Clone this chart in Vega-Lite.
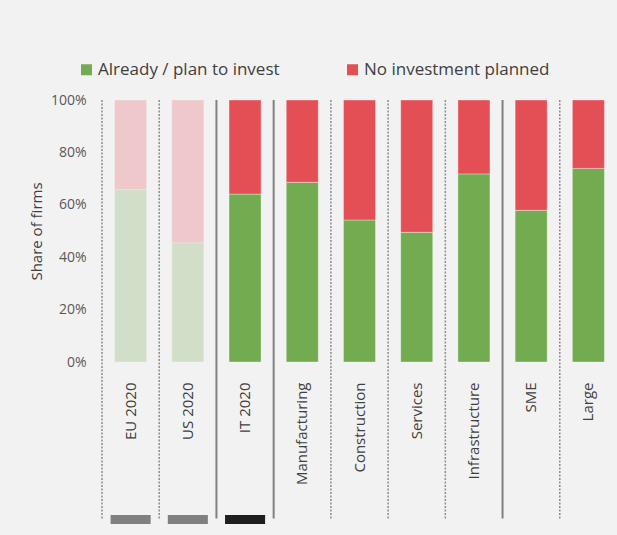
{
  "$schema": "https://vega.github.io/schema/vega-lite/v6.json",
  "autosize": "none",
  "width": 515,
  "height": 262,
  "padding": {"left": 102, "top": 100, "right": 0, "bottom": 173},
  "background": "#f2f2f2",
  "config": {
    "view": {"stroke": null},
    "font": "Open Sans",
    "axis": {"labelFont": "Open Sans", "titleFont": "Open Sans"},
    "legend": {"labelFont": "Open Sans"}
  },
  "datasets": {
    "bars": [
      {"cat": "EU 2020", "series": "Already / plan to invest", "value": 0.658, "faded": "yes", "ord": 1},
      {"cat": "EU 2020", "series": "No investment planned", "value": 0.342, "faded": "yes", "ord": 2},
      {"cat": "US 2020", "series": "Already / plan to invest", "value": 0.455, "faded": "yes", "ord": 1},
      {"cat": "US 2020", "series": "No investment planned", "value": 0.545, "faded": "yes", "ord": 2},
      {"cat": "IT 2020", "series": "Already / plan to invest", "value": 0.641, "faded": "no", "ord": 1},
      {"cat": "IT 2020", "series": "No investment planned", "value": 0.359, "faded": "no", "ord": 2},
      {"cat": "Manufacturing", "series": "Already / plan to invest", "value": 0.686, "faded": "no", "ord": 1},
      {"cat": "Manufacturing", "series": "No investment planned", "value": 0.314, "faded": "no", "ord": 2},
      {"cat": "Construction", "series": "Already / plan to invest", "value": 0.542, "faded": "no", "ord": 1},
      {"cat": "Construction", "series": "No investment planned", "value": 0.458, "faded": "no", "ord": 2},
      {"cat": "Services", "series": "Already / plan to invest", "value": 0.495, "faded": "no", "ord": 1},
      {"cat": "Services", "series": "No investment planned", "value": 0.505, "faded": "no", "ord": 2},
      {"cat": "Infrastructure", "series": "Already / plan to invest", "value": 0.718, "faded": "no", "ord": 1},
      {"cat": "Infrastructure", "series": "No investment planned", "value": 0.282, "faded": "no", "ord": 2},
      {"cat": "SME", "series": "Already / plan to invest", "value": 0.579, "faded": "no", "ord": 1},
      {"cat": "SME", "series": "No investment planned", "value": 0.421, "faded": "no", "ord": 2},
      {"cat": "Large", "series": "Already / plan to invest", "value": 0.739, "faded": "no", "ord": 1},
      {"cat": "Large", "series": "No investment planned", "value": 0.261, "faded": "no", "ord": 2}
    ],
    "seps": [
      {"cat": "EU 2020", "kind": "dotted", "top": 1, "bottom": -0.597},
      {"cat": "US 2020", "kind": "dotted", "top": 1, "bottom": -0.597},
      {"cat": "IT 2020", "kind": "solid", "top": 1, "bottom": -0.597},
      {"cat": "Manufacturing", "kind": "solid", "top": 1, "bottom": -0.597},
      {"cat": "Construction", "kind": "dotted", "top": 1, "bottom": -0.597},
      {"cat": "Services", "kind": "dotted", "top": 1, "bottom": -0.597},
      {"cat": "Infrastructure", "kind": "dotted", "top": 1, "bottom": -0.597},
      {"cat": "SME", "kind": "solid", "top": 1, "bottom": -0.597},
      {"cat": "Large", "kind": "dotted", "top": 1, "bottom": -0.597}
    ],
    "markers": [
      {"cat": "EU 2020", "shade": "light", "y0": -0.584, "y1": -0.618},
      {"cat": "US 2020", "shade": "light", "y0": -0.584, "y1": -0.618},
      {"cat": "IT 2020", "shade": "dark", "y0": -0.584, "y1": -0.618}
    ]
  },
  "layer": [
    {
      "data": {"name": "seps"},
      "transform": [{"filter": "datum.kind === 'dotted'"}],
      "mark": {"type": "rule", "color": "#8c8c8c", "strokeWidth": 1.5, "strokeDash": [2, 1.5]},
      "encoding": {
        "x": {"field": "cat", "type": "nominal", "bandPosition": 0, "sort": ["EU 2020", "US 2020", "IT 2020", "Manufacturing", "Construction", "Services", "Infrastructure", "SME", "Large"]},
        "y": {"field": "top", "type": "quantitative"},
        "y2": {"field": "bottom"}
      }
    },
    {
      "data": {"name": "seps"},
      "transform": [{"filter": "datum.kind === 'solid'"}],
      "mark": {"type": "rule", "color": "#808080", "strokeWidth": 2},
      "encoding": {
        "x": {"field": "cat", "type": "nominal", "bandPosition": 0, "sort": ["EU 2020", "US 2020", "IT 2020", "Manufacturing", "Construction", "Services", "Infrastructure", "SME", "Large"]},
        "y": {"field": "top", "type": "quantitative"},
        "y2": {"field": "bottom"}
      }
    },
    {
      "data": {"name": "markers"},
      "transform": [{"filter": "datum.shade === 'light'"}],
      "mark": {"type": "bar", "color": "#808080", "width": {"band": 0.7}},
      "encoding": {
        "x": {"field": "cat", "type": "nominal", "sort": ["EU 2020", "US 2020", "IT 2020", "Manufacturing", "Construction", "Services", "Infrastructure", "SME", "Large"]},
        "y": {"field": "y0", "type": "quantitative"},
        "y2": {"field": "y1"}
      }
    },
    {
      "data": {"name": "markers"},
      "transform": [{"filter": "datum.shade === 'dark'"}],
      "mark": {"type": "bar", "color": "#1e1e1e", "width": {"band": 0.7}},
      "encoding": {
        "x": {"field": "cat", "type": "nominal", "sort": ["EU 2020", "US 2020", "IT 2020", "Manufacturing", "Construction", "Services", "Infrastructure", "SME", "Large"]},
        "y": {"field": "y0", "type": "quantitative"},
        "y2": {"field": "y1"}
      }
    },
    {
      "data": {"name": "bars"},
      "mark": {"type": "bar", "width": {"band": 0.56}, "stroke": "#ffffff", "strokeOpacity": 0.35, "strokeWidth": 1},
      "encoding": {
        "x": {
          "field": "cat", "type": "nominal", "title": null,
          "sort": ["EU 2020", "US 2020", "IT 2020", "Manufacturing", "Construction", "Services", "Infrastructure", "SME", "Large"],
          "scale": {"paddingInner": 0, "paddingOuter": 0},
          "axis": {"labelAngle": -90, "labelPadding": 20, "ticks": false, "domain": false, "labelFontSize": 15, "labelColor": "#404040"}
        },
        "y": {
          "field": "value", "type": "quantitative", "stack": "zero",
          "scale": {"domain": [0, 1], "nice": false, "clamp": false},
          "title": "Share of firms",
          "axis": {"format": ".0%", "values": [0, 0.2, 0.4, 0.6, 0.8, 1], "ticks": false, "domain": false, "grid": false, "labelPadding": 16, "labelFontSize": 14, "labelColor": "#595959", "titleFontSize": 15, "titleFontWeight": "normal", "titleColor": "#404040", "titlePadding": 6}
        },
        "order": {"field": "ord", "type": "quantitative"},
        "color": {
          "field": "series", "type": "nominal",
          "scale": {"domain": ["Already / plan to invest", "No investment planned"], "range": ["#72ab50", "#e34f55"]},
          "legend": {"orient": "none", "legendX": -24, "legendY": -39, "direction": "horizontal", "title": null, "symbolType": "square", "symbolSize": 121, "symbolStrokeWidth": 0, "labelFontSize": 17, "labelColor": "#404040", "labelOffset": 3, "columnPadding": 64, "labelLimit": 400}
        },
        "opacity": {
          "field": "faded", "type": "nominal",
          "scale": {"domain": ["yes", "no"], "range": [0.25, 1]},
          "legend": null
        }
      }
    }
  ]
}
